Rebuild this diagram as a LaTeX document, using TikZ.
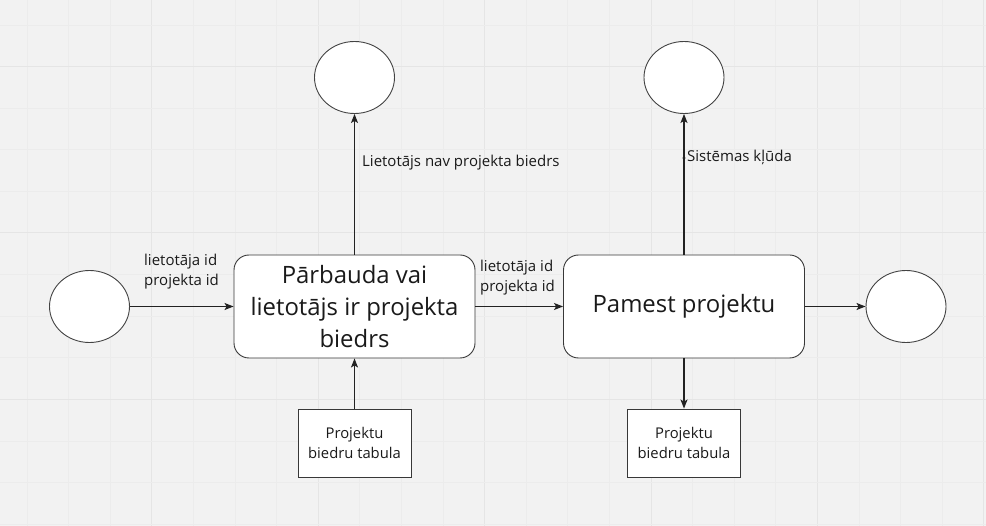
\documentclass[tikz,border=0pt]{standalone}
\usepackage{fontspec}
\setmainfont{Open Sans}
\usetikzlibrary{shapes.geometric,arrows.meta}
\definecolor{bgc}{RGB}{242,242,242}
\definecolor{gridc}{RGB}{236,236,236}
\definecolor{gridmaj}{RGB}{229,229,229}
\definecolor{linec}{RGB}{34,34,34}
\definecolor{textc}{RGB}{26,26,26}
\tikzset{
  endpt/.style={ellipse, draw=linec!85, line width=0.9pt, fill=white, minimum width=80pt, minimum height=72pt, inner sep=0pt},
  procbox/.style={rectangle, rounded corners=15pt, draw=linec!90, line width=0.9pt, fill=white, minimum width=241pt, minimum height=103pt, align=center, text=textc, font=\fontsize{23.9pt}{32.4pt}\selectfont},
  storebox/.style={rectangle, draw=linec!90, line width=0.9pt, fill=white, minimum width=113pt, minimum height=68pt, align=center, text=textc, font=\fontsize{14.8pt}{20pt}\selectfont},
  lbl/.style={inner sep=0pt, text=textc, align=left, font=\fontsize{15pt}{20pt}\selectfont},
  flow/.style={draw=linec, line width=1.2pt, -{Stealth[length=9pt,width=7pt,inset=2pt]}}
}
\begin{document}
\begin{tikzpicture}[x=1pt,y=-1pt]
\useasboundingbox (0,0) rectangle (986,526);
\fill[bgc] (0,0) rectangle (986,526);
% grid
\foreach \k in {0,...,23}{
  \pgfmathsetmacro{\xx}{27+41.6*\k}
  \pgfmathtruncatemacro{\m}{mod(\k,4)}
  \ifnum\m=3
    \draw[gridmaj, line width=1pt] (\xx,0) -- (\xx,526);
  \else
    \draw[gridc, line width=0.8pt] (\xx,0) -- (\xx,526);
  \fi
}
\foreach \k in {0,...,12}{
  \pgfmathsetmacro{\yy}{25+41.6*\k}
  \pgfmathtruncatemacro{\m}{mod(\k,4)}
  \ifnum\m=1
    \draw[gridmaj, line width=1pt] (0,\yy) -- (986,\yy);
  \else
    \draw[gridc, line width=0.8pt] (0,\yy) -- (986,\yy);
  \fi
}
% nodes
\node[endpt] (cin) at (89.5,306.5) {};
\node[procbox] (b1) at (354.5,306.5) {Pārbauda vai\\lietotājs ir projekta\\biedrs};
\node[procbox] (b2) at (684,306.5) {Pamest projektu};
\node[endpt] (cout) at (906,306.5) {};
\node[endpt] (t1) at (354.5,77.5) {};
\node[endpt] (t2) at (684,77.5) {};
\node[storebox] (r1) at (354.5,443) {Projektu\\biedru tabula};
\node[storebox] (r2) at (684,443) {Projektu\\biedru tabula};
% connectors
\draw[flow] (cin.east) -- (b1.west);
\draw[flow] (b1.east) -- (b2.west);
\draw[flow] (b2.east) -- (cout.west);
\draw[flow] (b1.north) -- (t1.south);
\draw[flow] (b2.north) -- (t2.south);
\draw[flow] (r1.north) -- (b1.south);
\draw[flow] (b2.south) -- (r2.north);
% labels
\node[lbl, anchor=west] (l1) at (144,272) {lietotāja id\\projekta id};
\node[lbl, anchor=west] (l2) at (480,278) {lietotāja id\\projekta id};
\node[lbl, anchor=base west] (l3) at (362,167) {Lietotājs nav projekta biedrs};
\node[lbl, anchor=base west] (l4) at (687,162) {Sistēmas kļūda};
\fill[linec] (684,158) circle (1.6pt);
\end{tikzpicture}
\end{document}
